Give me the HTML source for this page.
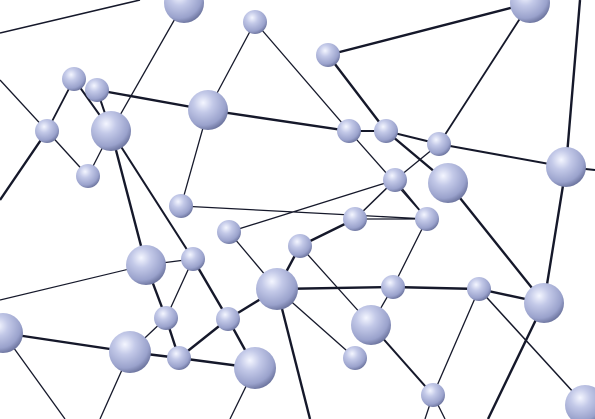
<!DOCTYPE html>
<html><head><meta charset="utf-8"><style>
html,body{margin:0;padding:0;background:#fff;}
svg{display:block}
</style></head><body>
<svg id="net" width="595" height="419" viewBox="0 0 595 419">
<defs>
<radialGradient id="sph" cx="0.38" cy="0.32" r="0.7">
<stop offset="0" stop-color="#f4f6ff"/>
<stop offset="0.35" stop-color="#c3c9e8"/>
<stop offset="0.8" stop-color="#9aa2cc"/>
<stop offset="1" stop-color="#6e76a0"/>
</radialGradient>
</defs>
<g id="edges"></g><g id="nodes"></g>
</svg>
<script>
const nodeX=[184,255,328,530,74,97,208,47,111,349,386,439,566,88,395,448,181,355,427,229,300,146,193,277,393,479,544,3,166,228,371,130,179,255,355,433,585, 0,140,0,0,0,310,100,230,65,580,595,488,425,445];
const nodeY=[3,22,55,3,79,90,110,131,131,131,131,144,167,176,180,183,206,219,219,232,246,265,259,289,287,289,303,333,318,319,325,352,358,368,358,395,405, 33,0,80,200,300,419,419,419,419,0,170,419,419,419];
const nodeR=[20,12,12,20,12,12,20,12,20,12,12,12,20,12,12,20,12,12,12,12,12,20,12,21,12,12,20,20,12,12,20,21,12,21,12,12,20, 0,0,0,0,0,0,0,0,0,0,0,0,0,0];
const edgeA=[37,0,1,6,1,2,2,10,15,3,4,4,5,5,39,7,7,13,8,8,6,9,10,11,46,12,12,9,11,14,14,16,19,17,17,18,24,20,23,30,25,35,35,25,26,23,24,25,23,21,21,21,22,22,19,20,23,29,29,28,27,31,32,28,27,31,33];
const edgeB=[38,8,6,16,9,3,10,15,26,11,7,8,8,6,7,40,13,8,21,22,9,10,11,12,12,47,26,18,14,17,18,18,14,18,20,24,30,30,34,35,35,49,50,36,48,24,25,26,42,41,22,28,28,29,23,23,29,32,33,31,31,32,33,32,45,43,44];
const edgeW=[1.5,1.3,1.3,1.3,1.3,2.4,2.4,2.4,2.4,1.8,1.8,2,2,2.4,1.3,2.4,1.3,1.3,2.4,2,2.4,2,2,2,2.4,2,2.4,1.3,1.3,1.5,1.5,1.3,1.3,1.3,2.4,1.3,1.3,1.3,1.3,2,1.3,1.3,1.3,1.5,2.4,2.4,2.4,2.4,2.4,1.2,1.3,2.4,1.3,2.4,1.3,2.4,2.4,2.4,2.4,1.3,2.4,2.4,2.4,2.4,1.3,1.3,1.3];
const ns='http://www.w3.org/2000/svg';
const eg=document.getElementById('edges'),ng=document.getElementById('nodes');
for(let i=0;i<edgeA.length;i++){
 const l=document.createElementNS(ns,'line');
 l.setAttribute('x1',nodeX[edgeA[i]]);l.setAttribute('y1',nodeY[edgeA[i]]);
 l.setAttribute('x2',nodeX[edgeB[i]]);l.setAttribute('y2',nodeY[edgeB[i]]);
 l.setAttribute('stroke','#15182a');l.setAttribute('stroke-width',edgeW[i]);
 
 
 eg.appendChild(l);
}
for(let i=0;i<nodeX.length;i++){
 if(!nodeR[i])continue;
 const c=document.createElementNS(ns,'circle');
 c.setAttribute('cx',nodeX[i]);c.setAttribute('cy',nodeY[i]);c.setAttribute('r',nodeR[i]);
 c.setAttribute('fill','url(#sph)');
 
 
 ng.appendChild(c);
}
</script>
</body></html>
